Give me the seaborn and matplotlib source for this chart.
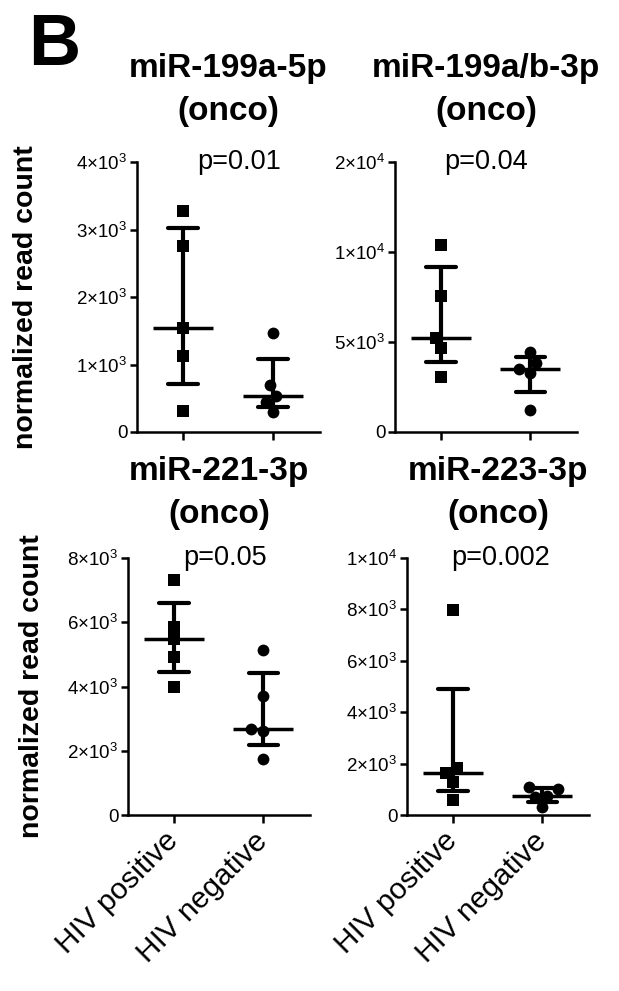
import numpy as np
import pandas as pd
import matplotlib
matplotlib.use("Agg")
import matplotlib.pyplot as plt
import seaborn as sns
from matplotlib.ticker import FuncFormatter, FixedLocator

sns.set_style("ticks")
plt.rcParams["font.family"] = ["Liberation Sans", "DejaVu Sans"]
plt.rcParams["mathtext.default"] = "regular"
for k in ["text.color", "axes.labelcolor", "xtick.color", "ytick.color", "axes.edgecolor"]:
    plt.rcParams[k] = "black"

groups = ["HIV positive", "HIV negative"]

# normalized read counts (5 samples per group)
mir199a5p_pos = [3276, 2754, 1547, 1128, 305]
mir199a5p_neg = [1473, 690, 537, 440, 300]
mir199ab3p_pos = [10800, 7565, 5240, 4686, 3081]
mir199ab3p_neg = [4465, 3856, 3506, 3266, 1199]
mir221_pos = [7326, 5855, 5471, 4922, 3990]
mir221_neg = [5150, 3710, 2684, 2611, 1730]
mir223_pos = [7990, 1813, 1645, 1295, 583]
mir223_neg = [1100, 1000, 740, 700, 320]

titles = ["miR-199a-5p", "miR-199a/b-3p", "miR-221-3p", "miR-223-3p"]
pvalues = ["p=0.01", "p=0.04", "p=0.05", "p=0.002"]
yticks = [[0, 1000, 2000, 3000, 4000],
          [0, 5000, 10000, 20000],
          [0, 2000, 4000, 6000, 8000],
          [0, 2000, 4000, 6000, 8000, 10000]]

series = [(mir199a5p_pos, mir199a5p_neg), (mir199ab3p_pos, mir199ab3p_neg),
          (mir221_pos, mir221_neg), (mir223_pos, mir223_neg)]

W, H = 619, 991
# axes boxes in pixels: left, bottom-y, width, height
boxes = [(137, 432, 183, 270), (395, 432, 182, 270),
         (128, 815, 182, 257), (407, 815, 182, 257)]
p_x = [0.62, 0.50, 0.57, 0.53]


def iqr(v):
    return tuple(np.percentile(v, [25, 75], method="weibull"))


def sci_label(v, pos):
    if v == 0:
        return "0"
    e = int(np.floor(np.log10(v) + 1e-9))
    m = v / 10 ** e
    return f"{m:g}×$10^{{{e}}}$"


# y axis of panel 2 is squeezed above 1e4
def fwd(y):
    y = np.asarray(y, dtype=float)
    return np.where(y <= 1e4, y, 1e4 + (y - 1e4) / 2)


def inv(y):
    y = np.asarray(y, dtype=float)
    return np.where(y <= 1e4, y, 1e4 + (y - 1e4) * 2)


fig = plt.figure(figsize=(W / 100, H / 100), dpi=100)

for i, (pos_vals, neg_vals) in enumerate(series):
    l, b, w, h = boxes[i]
    ax = fig.add_axes([l / W, 1 - b / H, w / W, h / H])
    df = pd.DataFrame({"group": [groups[0]] * len(pos_vals) + [groups[1]] * len(neg_vals),
                       "value": pos_vals + neg_vals})

    sns.pointplot(data=df, x="group", y="value", order=groups, ax=ax,
                  estimator=np.median, errorbar=iqr, capsize=0.33,
                  color="black", linestyle="none", marker="_",
                  markersize=43, markeredgewidth=2.5,
                  err_kws={"linewidth": 3})
    sns.swarmplot(data=df[df.group == groups[0]], x="group", y="value", order=groups,
                  ax=ax, color="black", marker="s", size=8)
    sns.swarmplot(data=df[df.group == groups[1]], x="group", y="value", order=groups,
                  ax=ax, color="black", marker="o", size=8.5)

    if i == 1:
        ax.set_yscale("function", functions=(fwd, inv))
    ax.set_ylim(0, yticks[i][-1])
    ax.yaxis.set_major_locator(FixedLocator(yticks[i]))
    ax.yaxis.set_minor_locator(FixedLocator([]))
    ax.yaxis.set_major_formatter(FuncFormatter(sci_label))
    ax.set_xlim(-0.51, 1.52)
    ax.set_xlabel("")
    ax.set_ylabel("")
    sns.despine(ax=ax)
    for s in ["left", "bottom"]:
        ax.spines[s].set_linewidth(1.8)
    ax.tick_params(axis="y", length=5, width=1.8, labelsize=13.5, pad=2)
    ax.tick_params(axis="x", length=5.5, width=1.8, labelsize=21.5, pad=10)
    if i < 2:
        ax.tick_params(axis="x", labelbottom=False)
    else:
        for t in ax.get_xticklabels():
            t.set_rotation(45)
            t.set_ha("right")
            t.set_va("center")
            t.set_rotation_mode("anchor")

    off = 42 if i < 2 else 35
    ax.annotate("(onco)", (0.5, 1), xycoords="axes fraction", xytext=(0, off),
                textcoords="offset pixels", ha="center", va="baseline",
                fontsize=24, fontweight="bold")
    ax.annotate(titles[i], (0.5, 1), xycoords="axes fraction", xytext=(0, off + 43),
                textcoords="offset pixels", ha="center", va="baseline",
                fontsize=24, fontweight="bold")
    ax.text(p_x[i], yticks[i][-1], pvalues[i], ha="center", va="center", fontsize=19.5)

fig.text(28 / W, 1 - 65 / H, "B", ha="left", va="baseline", fontsize=52, fontweight="bold")
fig.text(26 / W, 1 - 297 / H, "normalized read count", rotation=90, ha="center",
         va="center", fontsize=20.5, fontweight="bold")
fig.text(32 / W, 1 - 686 / H, "normalized read count", rotation=90, ha="center",
         va="center", fontsize=20.5, fontweight="bold")

fig.savefig("out.png", dpi=100)
